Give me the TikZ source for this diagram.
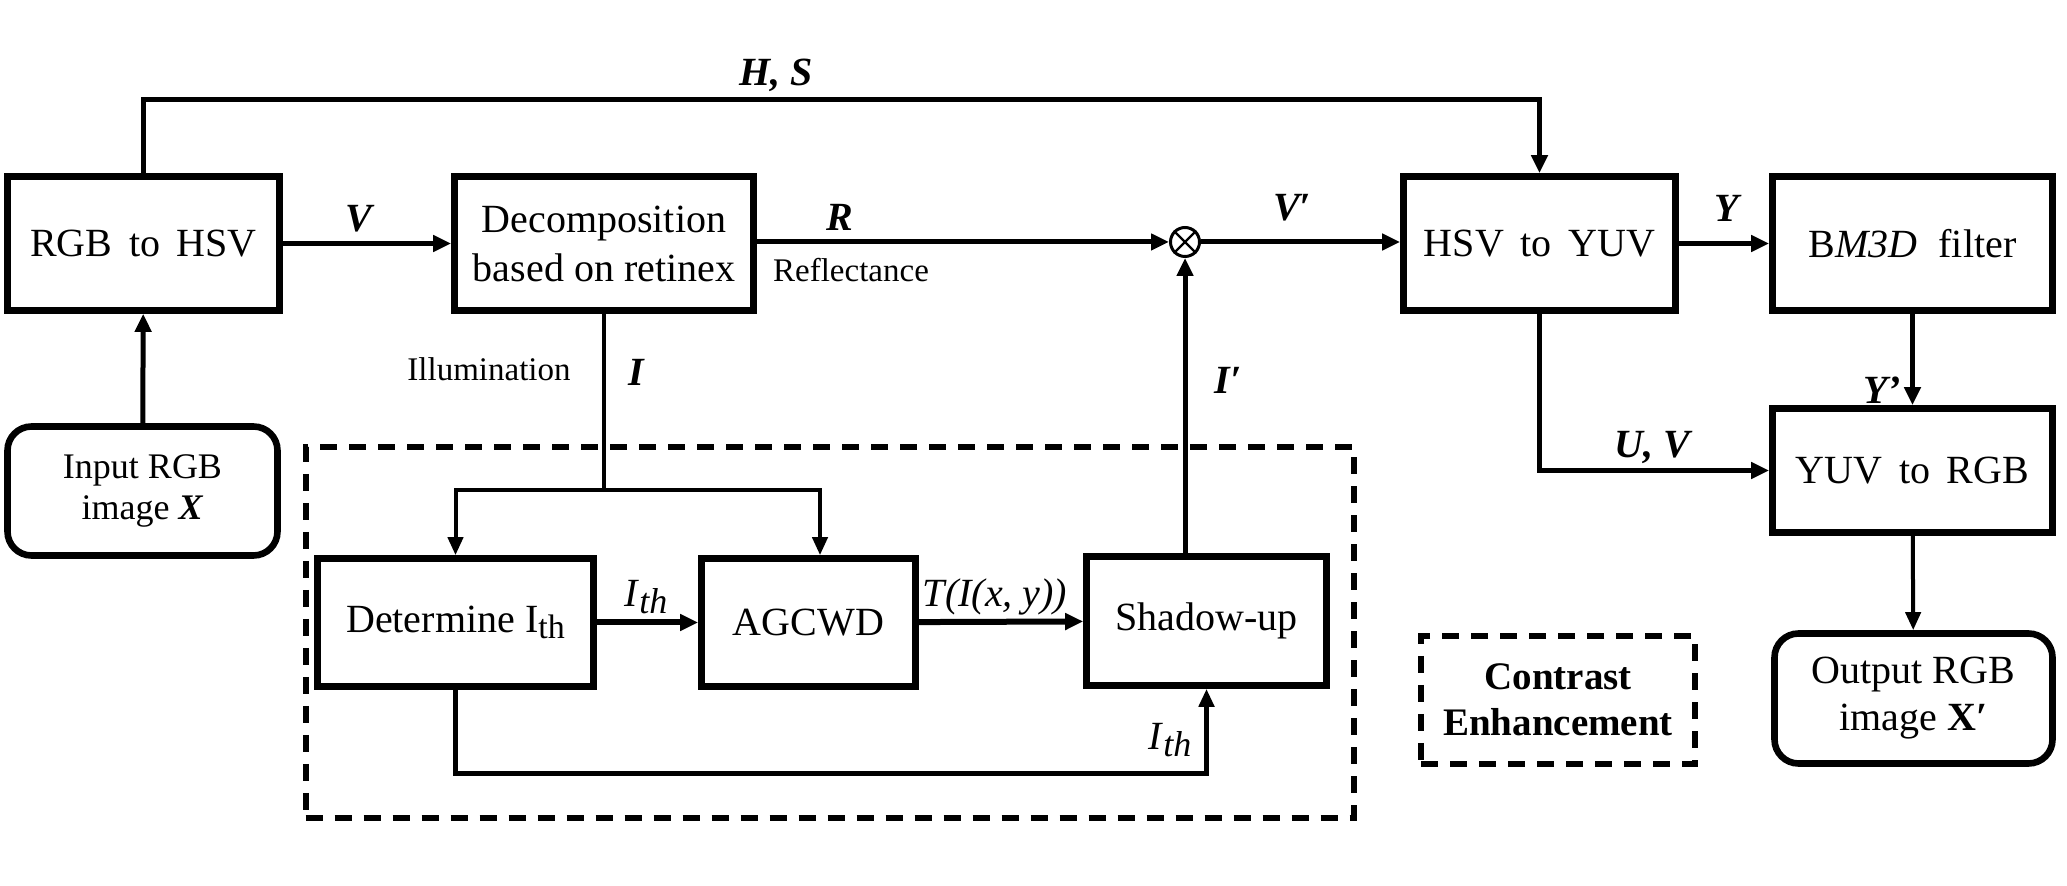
\documentclass[tikz,border=0pt]{standalone}
\usepackage{fontspec}
\setmainfont{Liberation Serif}
\usetikzlibrary{arrows.meta,calc}
\begin{document}
\begin{tikzpicture}[x=0.5pt,y=-0.5pt,
  box/.style={draw, line width=3.3pt, align=center, inner sep=0pt, font=\fontsize{20}{24.5}\selectfont},
  rbox/.style={box, rounded corners=12pt},
  dbox/.style={draw, line width=3pt, dash pattern=on 8.5pt off 6pt, inner sep=0pt},
  conn/.style={line width=2.5pt, -{Triangle[length=9pt,width=8pt]}},
  thin/.style={line width=2pt},
  thinconn/.style={line width=2pt, -{Triangle[length=9pt,width=7.5pt]}},
  lab/.style={inner sep=0pt, font=\fontsize{20}{24}\selectfont},
  slab/.style={inner sep=0pt, font=\fontsize{16.5}{20}\selectfont}
]
\useasboundingbox (0,0) rectangle (2067,886);

% frame
\node[dbox, minimum width=524pt, minimum height=185.5pt] (frame) at (829.5,632.5) {};

% boxes
\node[box, minimum width=136pt, minimum height=67pt] (rgb) at (143.5,243.5) {RGB\, to\, HSV};
\node[box, minimum width=149.5pt, minimum height=67pt] (dec) at (604,243.5) {Decomposition\\based on retinex};
\node[box, minimum width=136pt, minimum height=67pt] (hsv) at (1539.5,243.5) {HSV\, to\, YUV};
\node[box, minimum width=140pt, minimum height=67pt] (bm3d) at (1912.5,243.5) {B\textit{M3D}\; filter};
\node[box, minimum width=140pt, minimum height=62pt] (yuv) at (1912.5,470.5) {YUV\, to\, RGB};
\node[rbox, minimum width=139pt, minimum height=65pt, font=\fontsize{20}{23.5}\selectfont] (out) at (1913.5,698.5) {Output RGB\\image \textbf{X′}};
\node[rbox, minimum width=135pt, minimum height=64.5pt, font=\fontsize{18}{20.5}\selectfont] (in) at (142.5,491) {Input RGB\\image \textbf{\textit{X}}};
\node[dbox, align=center, minimum width=137pt, minimum height=64pt, font=\fontsize{19.5}{23}\selectfont\bfseries] (ce) at (1558,700) {Contrast\\Enhancement};
\node[box, minimum width=138pt, minimum height=64pt] (det) at (455.5,622.5) {Determine I\raisebox{-0.35ex}{\fontsize{17}{17}\selectfont th}};
\node[box, minimum width=107pt, minimum height=64pt] (agc) at (808.5,622.5) {AGCWD};
\node[box, minimum width=120pt, minimum height=64.5pt] (sha) at (1206.5,621) {Shadow-up};

% multiplier
\node[draw, circle, line width=1.5pt, minimum size=14.5pt, inner sep=0pt] (mul) at (1185,242) {};
\draw[line width=1.1pt] (mul.north west) -- (mul.south east) (mul.north east) -- (mul.south west);

% helper coordinates
\coordinate (top) at (0,100);
\coordinate (split) at (604,490);
\coordinate (bot) at (0,774);

% connectors
\draw[conn] (in) -- (rgb);
\draw[conn] (rgb.north) |- (top -| hsv.north) -- (hsv.north);
\draw[conn] (rgb) -- (dec);
\draw[conn] (dec.east |- mul) -- (mul);
\draw[conn] (mul) -- (hsv.west |- mul);
\draw[conn] (hsv) -- (bm3d);
\draw[conn] (bm3d) -- (yuv);
\draw[conn] (hsv.south) |- (yuv.west);
\draw[thinconn] (yuv) -- (out);
\draw[thin] (dec.south) -- (split);
\draw[thinconn] (split) -| (det.north);
\draw[thinconn] (split) -| ([xshift=5.75pt]agc.north);
\draw[conn, line width=3pt] (det) -- (agc);
\draw[conn, line width=3pt] (agc) -- (sha);
\draw[thinconn, line width=2.5pt] (det.south) |- (bot -| sha.south) -- (sha.south);
\draw[conn] (sha.north -| mul) -- (mul);

% labels
\node[lab] (lHS) at (776,75) {\textbf{\textit{H, S}}};
\node[lab] (lV) at (360,219) {\textbf{\textit{V}}};
\node[lab] (lR) at (840,217) {\textbf{\textit{R}}};
\node[slab] (lRef) at (851,270) {Reflectance};
\node[lab] (lVp) at (1292,208) {\textbf{\textit{V′}}};
\node[slab] (lIll) at (489,369) {Illumination};
\node[lab] (lI) at (637,372) {\textbf{\textit{I}}};
\node[lab] (lIp) at (1228,380) {\textbf{\textit{I′}}};
\node[lab] (lY) at (1728,208) {\textbf{\textit{Y}}};
\node[lab] (lYp) at (1882,390) {\textbf{\textit{Y’}}};
\node[lab] (lUV) at (1654,448) {\textbf{\textit{U, V}}};
\node[lab] (lIth1) at (646,597) {\textit{I}\raisebox{-0.4ex}{\fontsize{18}{18}\selectfont\textit{th}}};
\node[lab] (lT) at (995,597) {\textit{T(I(x, y))}};
\node[lab] (lIth2) at (1170,740) {\textit{I}\raisebox{-0.4ex}{\fontsize{18}{18}\selectfont\textit{th}}};
\end{tikzpicture}
\end{document}
